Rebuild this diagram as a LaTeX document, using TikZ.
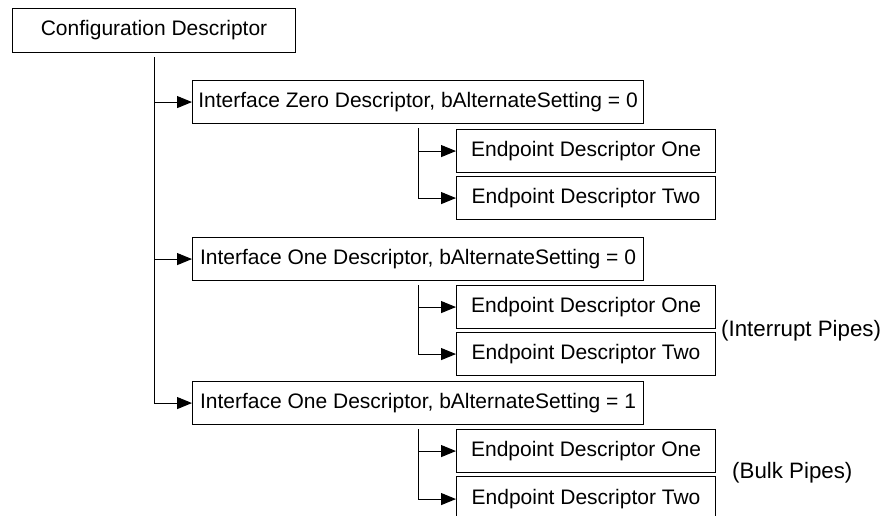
\documentclass[tikz,border=0pt]{standalone}
\usepackage{fontspec}
\setmainfont{Liberation Sans}
\usetikzlibrary{arrows.meta}
\begin{document}
\begin{tikzpicture}[x=1pt,y=-1pt,
  box/.style={draw,line width=1.1pt,inner sep=0pt,anchor=north west,font=\fontsize{21}{24}\selectfont},
  cfgbox/.style={box,minimum width=283pt,minimum height=44pt},
  ifbox/.style={box,minimum width=451pt,minimum height=43pt},
  epbox/.style={box,minimum width=259pt,minimum height=43pt},
  link/.style={line width=1.1pt,-{Triangle[length=15pt,width=12pt]}},
  note/.style={font=\fontsize{22.3}{26}\selectfont,inner sep=0pt,anchor=west}]
\clip (0,0) rectangle (885,515);
\node[cfgbox] (cfg) at (12,8) {Configuration Descriptor};
\node[ifbox] (if0) at (192,80) {Interface Zero Descriptor, bAlternateSetting = 0};
\node[epbox] (ep01) at (456,129) {Endpoint Descriptor One};
\node[epbox] (ep02) at (456,176) {Endpoint Descriptor Two};
\node[ifbox] (if1) at (192,237) {Interface One Descriptor, bAlternateSetting = 0};
\node[epbox] (ep11) at (456,285) {Endpoint Descriptor One};
\node[epbox] (ep12) at (456,332) {Endpoint Descriptor Two};
\node[ifbox] (if2) at (192,381) {Interface One Descriptor, bAlternateSetting = 1};
\node[epbox] (ep21) at (456,429) {Endpoint Descriptor One};
\node[epbox,minimum height=45pt] (ep22) at (456,476) {Endpoint Descriptor Two};
\node[note] (intr) at (721,331) {(Interrupt Pipes)};
\node[note] (bulk) at (732,473) {(Bulk Pipes)};
\draw[link] ([yshift=-4pt]cfg.south) |- (if0.west);
\draw[link] ([yshift=-4pt]cfg.south) |- (if1.west);
\draw[link] ([yshift=-4pt]cfg.south) |- (if2.west);
\draw[link] ([yshift=-4pt]if0.south) |- (ep01.west);
\draw[link] ([yshift=-4pt]if0.south) |- (ep02.west);
\draw[link] ([yshift=-4pt]if1.south) |- (ep11.west);
\draw[link] ([yshift=-4pt]if1.south) |- (ep12.west);
\draw[link] ([yshift=-4pt]if2.south) |- (ep21.west);
\draw[link] ([yshift=-4pt]if2.south) |- (ep22.west);
\end{tikzpicture}
\end{document}
